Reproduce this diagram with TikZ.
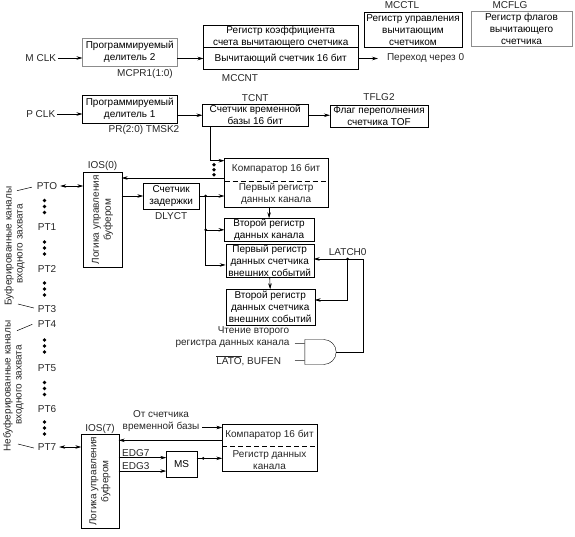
\documentclass[tikz,border=0pt]{standalone}
\usepackage{fontspec}
\setmainfont{Liberation Sans}
\usepackage{tikz}
\usetikzlibrary{positioning,arrows.meta,calc,shapes.gates.logic.US}
\definecolor{inkgrey}{gray}{0.15}
\tikzset{
  box/.style={draw,align=center,inner sep=0pt,outer sep=0pt},
  greybox/.style={box,draw=black!45,line width=0.9pt},
  txt/.style={align=center,inner sep=0pt,outer sep=0pt,text=inkgrey},
  lab/.style={inner sep=0pt,outer sep=0pt,text height=7pt,text depth=0pt,text=inkgrey},
  arr/.style={-{Stealth[length=6pt,width=3.5pt]},line width=0.6pt},
  darr/.style={{Stealth[length=6pt,width=3.5pt]}-{Stealth[length=6pt,width=3.5pt]},line width=0.6pt,shorten <=3pt},
  wire/.style={line width=0.6pt},
  slash/.style={line width=0.5pt},
  jn/.style={circle,fill=black,inner sep=0pt,minimum size=3pt},
  dotty/.style={circle,fill=black,inner sep=0pt,minimum size=3.6pt}
}

\begin{document}
\begin{tikzpicture}[font=\fontsize{10}{12}\selectfont]
\useasboundingbox (0,0) rectangle (575pt,-536pt);
% clock branch
\node[greybox,minimum width=94.5pt,minimum height=28pt] (divm) at (129.75pt,-52pt) {Программируемый\\делитель 2};
\node[box,minimum width=94.5pt,minimum height=28pt,below=29pt of divm] (divp) {Программируемый\\делитель 1};
\node[box,minimum width=154.5pt,minimum height=22pt,right=26.5pt of divm,yshift=15.5pt] (regm) {Регистр коэффициента\\счета вычитающего счетчика};
\node[box,minimum width=154.5pt,minimum height=22pt,below=0pt of regm] (cntm) {Вычитающий счетчик 16 бит};
\node[box,minimum width=98pt,minimum height=35.5pt,right=6pt of regm,yshift=6.75pt] (mcctl) {Регистр управления\\вычитающим\\счетчиком};
\node[greybox,minimum width=101pt,minimum height=35pt,right=9pt of mcctl,yshift=1.25pt] (mcflg) {Регистр флагов\\вычитающего\\счетчика};
\node[box,minimum width=105.5pt,minimum height=22.5pt,right=25.5pt of divp,yshift=-6.25pt] (tcnt) {Счетчик временной\\базы 16 бит};
\node[box,minimum width=98pt,minimum height=22pt,right=22pt of tcnt,yshift=-0.75pt] (tof) {Флаг переполнения\\счетчика TOF};
\node[lab,at={([xshift=-89pt,yshift=-6pt]divm.center)}] (mclk) {M CLK};
\node[lab,at={([xshift=-89pt,yshift=-5pt]divp.center)}] (pclk) {P CLK};
\node[txt,right=29pt of cntm] (ovf) {Переход через 0};
\node[lab,below=3.5pt of divm,xshift=15.25pt] (mcpr) {MCPR1(1:0)};
\node[lab,below=2.5pt of divp,xshift=14.25pt] (prt) {PR(2:0) TMSK2};
\node[lab,at={([xshift=-40.75pt,yshift=-8pt]cntm.south)}] (mccnt) {MCCNT};
\node[lab,above=2.5pt of tcnt] (tcntl) {TCNT};
\node[lab,above=4.5pt of tof] (tflg) {TFLG2};
\node[lab,above=3.5pt of mcctl,xshift=-11pt] (mcctll) {MCCTL};
\node[lab,above=2.5pt of mcflg,xshift=-11.5pt] (mcflgl) {MCFLG};
% buffered channels
\node[box,minimum width=103.2pt,minimum height=48.7pt,below=31.5pt of tcnt,xshift=20.85pt] (cmp0) {};
\node[txt,at={([yshift=13pt]cmp0.center)}] (cmp0a) {Компаратор 16 бит};
\node[txt,at={([yshift=-11.65pt]cmp0.center)}] (cmp0b) {Первый регистр\\данных канала};
\node[box,minimum width=89.2pt,minimum height=23pt,below=11.6pt of cmp0,xshift=-7pt] (reg1) {Второй регистр\\данных канала};
\node[box,minimum width=88pt,minimum height=32.7pt,below=3pt of reg1,xshift=0.6pt] (ev0) {Первый регистр\\данных счетчика\\внешних событий};
\node[box,minimum width=89pt,minimum height=35.7pt,below=12.3pt of ev0,xshift=0.5pt] (ev1) {Второй регистр\\данных счетчика\\внешних событий};
\node[box,minimum width=38.4pt,minimum height=95pt,below=49.3pt of divp,xshift=-27.25pt] (logic0) {};
\node[txt,rotate=90,at={(logic0.center)}] (logic0t) {Логика управления\\буфером};
\node[box,minimum width=55.7pt,minimum height=25.4pt,right=21.6pt of logic0,yshift=23.8pt] (delay) {Счетчик\\задержки};
\node[lab,below=3.8pt of delay] (dlyct) {DLYCT};
\node[lab,above=3.8pt of logic0] (ios0) {IOS(0)};
\node[and gate US,draw,logic gate inputs=nn,minimum height=25pt,inner sep=0pt] (and0) at ([xshift=93.8pt,yshift=-27pt]ev1.south west) {};
\coordinate (in1) at ([yshift=8.5pt]and0.west);
\coordinate (in2) at ([yshift=-8.5pt]and0.west);
\node[txt,left=15.3pt of in1] (rd) {регистра данных канала};
\node[txt,above=4pt of rd,xshift=21pt] (rdt) {Чтение второго};
\node[txt,at={([xshift=-56pt]in2)}] (bufen) {$\overline{\mbox{LATO}}$, BUFEN};
\coordinate (jl) at ([xshift=34pt,yshift=1.65pt]ev0.east);
\node[lab,above=4pt of jl] (latch) {LATCH0};
% port pins
\node[lab,at={([xshift=-55.5pt,yshift=33.8pt]logic0.center)}] (pt0) {PTO};
\node[lab,below=34pt of pt0] (pt1) {PT1};
\node[lab,below=35pt of pt1] (pt2) {PT2};
\node[lab,below=33pt of pt2] (pt3) {PT3};
\node[lab,below=8pt of pt3] (pt4) {PT4};
\node[lab,below=37pt of pt4] (pt5) {PT5};
\node[lab,below=34pt of pt5] (pt6) {PT6};
\node[lab,below=31pt of pt6] (pt7) {PT7};
\foreach \a/\b in {pt0/pt1,pt1/pt2,pt2/pt3,pt4/pt5,pt5/pt6,pt6/pt7}
  \foreach \d in {-6,0,6}
    \node[dotty] at ($($(\a)!0.5!(\b)$)+(-2.5pt,\d pt)$) {};
\node[txt,rotate=90,at={([xshift=-38pt,yshift=-60pt]pt0.center)}] (bufch) {Буферированные каналы};
\node[txt,rotate=90,at={([xshift=-26pt,yshift=-58pt]pt0.center)}] (bufin) {входного захвата};
\node[txt,rotate=90,at={([xshift=-39pt,yshift=-62pt]pt4.center)}] (unbufch) {Небуферированные каналы};
\node[txt,rotate=90,at={([xshift=-27pt,yshift=-61pt]pt4.center)}] (unbufin) {входного захвата};
\coordinate (s0) at ([xshift=-30pt,yshift=-4.7pt]pt0.center);
\coordinate (s3) at ([xshift=-29pt,yshift=5pt]pt3.center);
\coordinate (s4) at ([xshift=-30pt,yshift=-6.7pt]pt4.center);
\coordinate (s7) at ([xshift=-29pt,yshift=3pt]pt7.center);
\draw[slash,shorten >=5pt] (s0) -- (pt0.west);
\draw[slash,shorten >=4pt] (s3) -- (pt3.west);
\draw[slash,shorten >=6pt] (s4) -- ([yshift=2pt]pt4.west);
\draw[slash,shorten >=4pt] (s7) -- ([yshift=-2pt]pt7.west);
% unbuffered channel
\node[box,minimum width=37.4pt,minimum height=94pt,below=167pt of logic0,xshift=-2.5pt] (logic7) {};
\node[txt,rotate=90,at={(logic7.center)}] (logic7t) {Логика управления\\буфером};
\node[lab,above=3pt of logic7] (ios7) {IOS(7)};
\node[box,minimum width=30.4pt,minimum height=25.7pt,right=47.6pt of logic7,yshift=17.15pt] (ms) {MS};
\node[box,minimum width=94.4pt,minimum height=47pt,right=25.6pt of ms,yshift=16.35pt] (cmp7) {};
\node[txt,at={([yshift=12.5pt]cmp7.center)}] (cmp7a) {Компаратор 16 бит};
\node[txt,at={([yshift=-12.2pt]cmp7.center)}] (cmp7b) {Регистр данных\\канала};
\node[txt,left=23pt of cmp7,yshift=26.8pt] (tbase) {От счетчика\\временной базы};
\node[lab,right=3.5pt of logic7,yshift=28.6pt] (edg7) {EDG7};
\node[lab,below=6pt of edg7] (edg3) {EDG3};
% connectors
\draw[arr] (mclk.east) ++(2pt,0) -- (divm.west |- mclk.east);
\draw[arr] (pclk.east) ++(2pt,0) -- (divp.west |- pclk.east);
\draw[arr] (divm.east |- cntm.west) -- (cntm.west);
\draw[arr] (divp.east |- tcnt.west) -- (tcnt.west);
\draw[arr,shorten >=9pt] (cntm.east) -- (ovf.west);
\draw[arr] (tcnt.east) -- (tcnt.east -| tof.west);
\draw[line width=1.2pt] (regm.south west) -- (regm.south east);
\draw[arr] ([xshift=7.5pt]tcnt.south west) |- ([yshift=-2.7pt]cmp0.north west);
\draw[dashed,dash pattern=on 5pt off 3pt,wire] ([yshift=0.65pt]cmp0.west) -- ([yshift=0.65pt]cmp0.east);
\foreach \d in {-5,0,5}
  \node[dotty] at ([xshift=-10.5pt,yshift=\d pt+12.6pt]cmp0.west) {};
\draw[arr] ([yshift=4.35pt]cmp0.west) -- ([yshift=4.35pt]cmp0.west -| logic0.east);
\draw[arr] (logic0.east |- delay.west) -- (delay.west);
\coordinate (jd) at ([xshift=6.7pt]delay.east);
\draw[arr] (delay.east) -- (delay.east -| cmp0.west);
\draw[wire] (jd) -- (jd |- reg1.west);
\draw[arr] (jd |- reg1.west) -- (reg1.west);
\draw[arr] (jd |- reg1.west) |- ([yshift=-4.3pt]ev0.west);
\node[jn] at (jd) {};
\node[jn] at (jd |- reg1.west) {};
\draw[arr] (cmp0.south -| reg1.north) -- (reg1.north);
\draw[arr] (ev0.south) -- (ev1.north);
\draw[arr] (and0.east) -| ([xshift=15.5pt]jl) -- (ev0.east |- jl);
\draw[arr] (jl) |- ([yshift=7.15pt]ev1.east);
\node[jn] at (jl) {};
\draw[black!60,wire] ([xshift=-10pt]in1) -- (in1);
\draw[black!60,wire] ([xshift=-10pt]in2) -- (in2);
\draw[darr] (pt0.east) -- (logic0.west |- pt0.east);
\draw[darr] (pt7.east) -- (logic7.west |- pt7.east);
\draw[arr,shorten <=3pt] ([yshift=-6.5pt]tbase.east) -- ([yshift=-6.5pt]tbase.east -| cmp7.west);
\draw[arr] ([yshift=7.5pt]cmp7.west) -- ([yshift=7.5pt]cmp7.west -| logic7.east);
\draw[dashed,dash pattern=on 5pt off 3pt,wire] ([yshift=1.5pt]cmp7.west) -- ([yshift=1.5pt]cmp7.east);
\draw[arr] ([yshift=6.5pt]ms.west -| logic7.east) -- ([yshift=6.5pt]ms.west);
\draw[arr] ([yshift=-6.9pt]ms.west -| logic7.east) -- ([yshift=-6.9pt]ms.west);
\draw[arr] ([yshift=5.85pt]ms.east) -- ([yshift=5.85pt]ms.east -| cmp7.west);
\node[jn] at ([xshift=6.6pt,yshift=5.85pt]ms.east) {};
\end{tikzpicture}
\end{document}
